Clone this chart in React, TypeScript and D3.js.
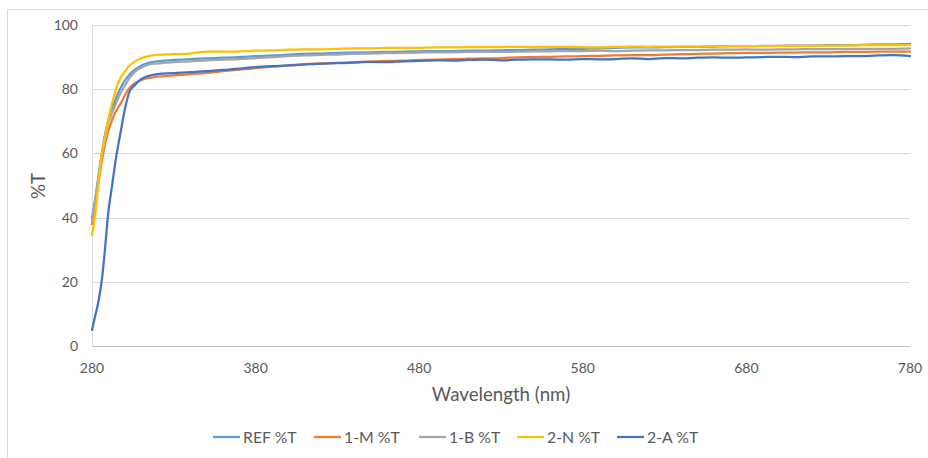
import React from "react";
import * as d3 from "d3";

const wavelengths = [280, 282, 284, 286, 288, 290, 292, 294, 296, 298, 300, 303, 306, 310, 315, 320, 330, 340, 350, 360, 370, 380, 390, 400, 410, 420, 430, 440, 450, 460, 470, 480, 490, 500, 510, 520, 530, 540, 550, 560, 570, 580, 590, 600, 610, 620, 630, 640, 650, 660, 670, 680, 690, 700, 710, 720, 730, 740, 750, 760, 770, 780];

const refT = [40, 46, 53, 60, 66, 70.5, 73.8, 76.3, 78.8, 80.9, 82.6, 84.6, 86, 87.3, 88.3, 88.7, 89.1, 89.4, 89.6, 89.8, 90, 90.3, 90.5, 90.8, 91, 91.1, 91.3, 91.4, 91.5, 91.6, 91.7, 91.8, 91.9, 91.9, 92, 92, 92.1, 92.2, 92.3, 92.4, 92.5, 92.6, 92.7, 92.9, 93, 93, 93.1, 93.2, 93.2, 93.3, 93.4, 93.4, 93.5, 93.5, 93.6, 93.6, 93.7, 93.7, 93.8, 94, 94, 94.1];
const m1T = [38, 44, 51, 57.5, 63, 67, 70, 72.5, 74.3, 76, 78, 80.5, 81.8, 82.8, 83.5, 83.9, 84.3, 84.7, 85.1, 85.6, 86.1, 86.6, 87, 87.4, 87.8, 88, 88.2, 88.4, 88.6, 88.8, 88.9, 89.1, 89.2, 89.4, 89.5, 89.6, 89.7, 89.9, 90, 90.1, 90.2, 90.3, 90.4, 90.5, 90.6, 90.6, 90.8, 90.9, 91, 91.1, 91.2, 91.3, 91.3, 91.4, 91.4, 91.5, 91.5, 91.6, 91.6, 91.7, 91.7, 91.7];
const b1T = [39, 45.5, 52.5, 59.5, 65, 69.5, 72.3, 74.8, 77.2, 79.3, 81, 83.5, 85.3, 86.7, 87.7, 88, 88.4, 88.7, 89, 89.2, 89.4, 89.7, 90, 90.3, 90.5, 90.7, 90.8, 91, 91.1, 91.2, 91.3, 91.4, 91.5, 91.5, 91.6, 91.6, 91.6, 91.7, 91.8, 91.8, 91.9, 91.9, 92, 91.9, 92, 92.1, 92.1, 92.2, 92.2, 92.3, 92.3, 92.4, 92.3, 92.4, 92.4, 92.5, 92.5, 92.5, 92.6, 92.6, 92.6, 92.7];
const n2T = [34.6, 41, 51, 60, 65, 70.5, 75, 78.8, 82, 84, 85.5, 87.4, 88.6, 89.6, 90.4, 90.7, 90.9, 91.1, 91.7, 91.7, 91.8, 92, 92.1, 92.3, 92.4, 92.4, 92.6, 92.7, 92.7, 92.9, 92.9, 92.9, 93, 93, 93.1, 93.1, 93.1, 93.2, 93.1, 93.2, 93.2, 93.1, 93, 93.2, 93.3, 93.2, 93.3, 93.3, 93.3, 93.4, 93.4, 93.4, 93.4, 93.5, 93.5, 93.5, 93.6, 93.6, 93.7, 93.7, 93.7, 93.8];
const a2T = [5, 9.5, 14, 20.5, 30.5, 41.8, 49, 56.3, 62.5, 68, 73.5, 79.3, 81.2, 83.1, 84.2, 84.7, 85, 85.3, 85.6, 86, 86.4, 86.9, 87.2, 87.4, 87.7, 88, 88.1, 88.3, 88.5, 88.4, 88.7, 88.8, 89, 88.9, 89.1, 89.2, 89, 89.2, 89.3, 89.3, 89.2, 89.4, 89.3, 89.4, 89.6, 89.4, 89.7, 89.6, 89.8, 89.9, 89.8, 89.9, 90, 90.1, 90, 90.2, 90.2, 90.3, 90.3, 90.5, 90.6, 90.3];

const seriesNames = ["REF %T", "1-M %T", "1-B %T", "2-N %T", "2-A %T"];
const seriesValues = [refT, m1T, b1T, n2T, a2T];
const seriesColors = ["#5B9BD5", "#ED7D31", "#A5A5A5", "#FFC000", "#4472C4"];
const xTicks = [280, 380, 480, 580, 680, 780];
const yTicks = [0, 20, 40, 60, 80, 100];

const W = 928;
const H = 458;
const plot = { left: 92, right: 910, top: 25, bottom: 346 };
const legendX = [213, 314, 419, 517, 617];
const FONT = "Lato, 'Open Sans', sans-serif";
const TEXT = "#595959";

export default function App() {
  const x = d3.scaleLinear().domain([280, 780]).range([plot.left, plot.right]);
  const y = d3.scaleLinear().domain([0, 100]).range([plot.bottom, plot.top]);
  const line = d3
    .line<number>()
    .x((_, i) => x(wavelengths[i]))
    .y((d) => y(d))
    .curve(d3.curveMonotoneX);

  return (
    <svg
      width={W}
      height={H}
      style={{ position: "absolute", left: 0, top: 0, background: "#fff" }}
      fontFamily={FONT}
    >
      <rect x={7.5} y={9.5} width={W + 10} height={H + 10} fill="#fff" stroke="#d9d9d9" strokeWidth={1} />
      {yTicks.map((t) => (
        <line key={"g" + t} x1={plot.left} x2={plot.right} y1={Math.round(y(t)) + 0.5} y2={Math.round(y(t)) + 0.5} stroke="#d9d9d9" strokeWidth={1} />
      ))}
      <line x1={plot.left + 0.5} x2={plot.left + 0.5} y1={plot.top} y2={plot.bottom} stroke="#d9d9d9" strokeWidth={1} />
      <line x1={plot.left} x2={plot.right} y1={plot.bottom + 0.5} y2={plot.bottom + 0.5} stroke="#bfbfbf" strokeWidth={1} />
      {yTicks.map((t) => (
        <text key={"yl" + t} x={78} y={y(t)} dy="0.35em" textAnchor="end" fontSize={14} fill={TEXT}>
          {t}
        </text>
      ))}
      {xTicks.map((t) => (
        <text key={"xl" + t} x={x(t)} y={368} dy="0.35em" textAnchor="middle" fontSize={14} fill={TEXT}>
          {t}
        </text>
      ))}
      <text x={501} y={394} dy="0.35em" textAnchor="middle" fontSize={18.7} fill={TEXT}>
        Wavelength (nm)
      </text>
      <text transform="translate(38,186) rotate(-90)" dy="0.35em" textAnchor="middle" fontSize={18.7} fill={TEXT}>
        %T
      </text>
      <g fill="none" strokeWidth={2.25} strokeLinejoin="round" strokeLinecap="round">
        {seriesValues.map((vals, i) => (
          <path key={seriesNames[i]} d={line(vals) || ""} stroke={seriesColors[i]} />
        ))}
      </g>
      {seriesNames.map((name, i) => (
        <g key={"lg" + name} transform={`translate(${legendX[i]},437)`}>
          <line x1={0} x2={27} y1={0} y2={0} stroke={seriesColors[i]} strokeWidth={2.25} />
          <text x={30} y={0} dy="0.35em" fontSize={15.8} fill={TEXT}>
            {name}
          </text>
        </g>
      ))}
    </svg>
  );
}
